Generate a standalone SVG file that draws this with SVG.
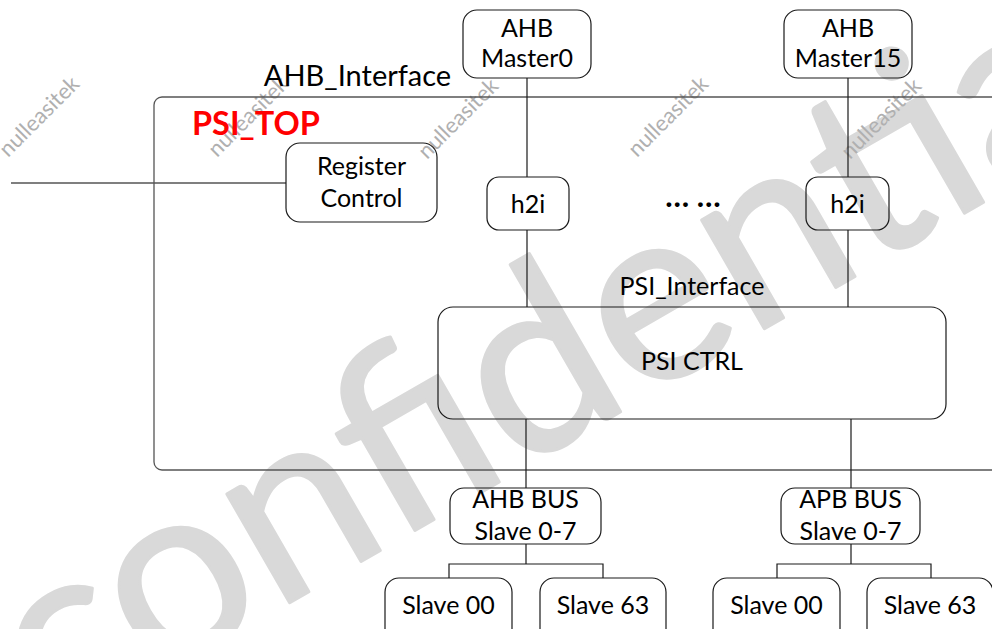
<svg xmlns="http://www.w3.org/2000/svg" width="992" height="629" viewBox="0 0 992 629">
<style>
  .box { fill: none; stroke: #1a1a1a; stroke-width: 1.2; }
  .frame { fill: none; stroke: #555555; stroke-width: 1.3; }
  .wire { fill: none; stroke: #1a1a1a; stroke-width: 1.2; }
  .gwire { fill: none; stroke: #555555; stroke-width: 1.3; }
  .t { font-family: Lato, "Liberation Sans", sans-serif; font-size: 25px; fill: #000; text-anchor: middle; }
  .big { font-size: 29px; }
  .dots { font-size: 31px; font-weight: bold; }
  .wm { font-family: Lato, "Liberation Sans", sans-serif; font-size: 248px; fill: #d9d9d9; stroke: #d9d9d9; stroke-width: 3; stroke-linejoin: round; }
  .wms { font-family: Lato, "Liberation Sans", sans-serif; font-size: 22px; fill: #b0b0b0; }
</style>
<rect width="992" height="629" fill="#ffffff"/>
<g id="watermark">
  <text class="wm" transform="translate(52,740) rotate(-30)">confidential</text>
  <text class="wms" transform="translate(8,158) rotate(-45)">nulleasitek</text>
  <text class="wms" transform="translate(217,158) rotate(-45)">nulleasitek</text>
  <text class="wms" transform="translate(427,160) rotate(-45)">nulleasitek</text>
  <text class="wms" transform="translate(637,158) rotate(-45)">nulleasitek</text>
  <text class="wms" transform="translate(850,160) rotate(-45)">nulleasitek</text>
</g>
<g id="psi_top">
  <rect class="frame" x="154" y="97" width="860" height="373" rx="8"/>
  <text x="192" y="135" font-family="Lato, 'Liberation Sans', sans-serif" font-weight="bold" font-size="32.5" fill="#ff0000">PSI_TOP</text>
</g>
<g id="labels">
  <text class="t big" x="357.5" y="86">AHB_Interface</text>
  <text class="t" x="692" y="295">PSI_Interface</text>
  <text class="t dots" x="693" y="207">… …</text>
</g>
<g id="connectors">
  <line class="gwire" x1="11" y1="183" x2="286" y2="183"/>
  <line class="wire" x1="527" y1="78" x2="527" y2="177"/>
  <line class="wire" x1="848" y1="78" x2="848" y2="177"/>
  <line class="wire" x1="527" y1="230" x2="527" y2="307"/>
  <line class="wire" x1="848" y1="230" x2="848" y2="307"/>
  <line class="wire" x1="526" y1="419" x2="526" y2="488"/>
  <line class="wire" x1="851" y1="419" x2="851" y2="488"/>
  <path class="wire" d="M526,544 V564 M449,578 V564 H603 V578"/>
  <path class="wire" d="M851,544 V564 M777,578 V564 H931 V578"/>
</g>
<g id="master0">
  <rect class="box" x="463" y="10" width="128" height="68" rx="14"/>
  <text class="t" x="527" y="37">AHB</text>
  <text class="t" x="527" y="67">Master0</text>
</g>
<g id="master15">
  <rect class="box" x="784" y="10" width="128" height="68" rx="14"/>
  <text class="t" x="848" y="37">AHB</text>
  <text class="t" x="848" y="67">Master15</text>
</g>
<g id="register_control">
  <rect class="box" x="286" y="143" width="151" height="79" rx="14"/>
  <text class="t" x="361.5" y="175">Register</text>
  <text class="t" x="361.5" y="207">Control</text>
</g>
<g id="h2i_0">
  <rect class="box" x="487" y="177" width="82" height="53" rx="12"/>
  <text class="t" x="528" y="213">h2i</text>
</g>
<g id="h2i_15">
  <rect class="box" x="806" y="177" width="83" height="53" rx="12"/>
  <text class="t" x="847.5" y="213">h2i</text>
</g>
<g id="psi_ctrl">
  <rect class="box" x="438" y="307" width="508" height="112" rx="15"/>
  <text class="t" x="692" y="370">PSI CTRL</text>
</g>
<g id="ahb_bus">
  <rect class="box" x="450" y="488" width="151" height="56" rx="14"/>
  <text class="t" x="525.5" y="508">AHB BUS</text>
  <text class="t" x="525.5" y="540">Slave 0-7</text>
</g>
<g id="apb_bus">
  <rect class="box" x="781" y="488" width="139" height="56" rx="14"/>
  <text class="t" x="850.5" y="508">APB BUS</text>
  <text class="t" x="850.5" y="540">Slave 0-7</text>
</g>
<g id="ahb_slave00">
  <rect class="box" x="385" y="578" width="127" height="66" rx="14"/>
  <text class="t" x="448.5" y="614">Slave 00</text>
</g>
<g id="ahb_slave63">
  <rect class="box" x="540" y="578" width="126" height="66" rx="14"/>
  <text class="t" x="603" y="614">Slave 63</text>
</g>
<g id="apb_slave00">
  <rect class="box" x="713" y="578" width="127" height="66" rx="14"/>
  <text class="t" x="776.5" y="614">Slave 00</text>
</g>
<g id="apb_slave63">
  <rect class="box" x="867" y="578" width="126" height="66" rx="14"/>
  <text class="t" x="930" y="614">Slave 63</text>
</g>
</svg>
